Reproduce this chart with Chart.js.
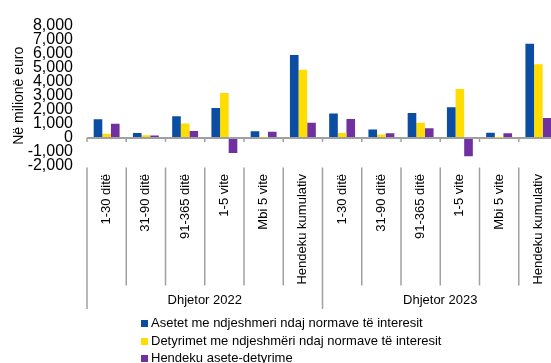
<!DOCTYPE html>
<html>
<head>
<meta charset="utf-8">
<script src="https://cdn.jsdelivr.net/npm/chart.js@4/dist/chart.umd.min.js"></script>
<style>
  html, body { margin: 0; padding: 0; background: #fff; overflow: hidden; }
  #wrap { position: relative; width: 558px; height: 363px; }
  #legend { position: absolute; left: 141px; top: 314px; font: 13px "Liberation Sans", Arial, sans-serif; color: #000; }
  #legend .item { height: 17.5px; line-height: 17.5px; white-space: nowrap; }
  #legend .box { display: inline-block; width: 7px; height: 7px; margin-right: 3px; vertical-align: 0px; }
</style>
</head>
<body>
<div id="wrap">
  <canvas id="c" width="558" height="363"></canvas>
  <div id="legend"></div>
</div>
<script>
// ---- data ----
const categories = ['1-30 ditë', '31-90 ditë', '91-365 ditë', '1-5 vite', 'Mbi 5 vite', 'Hendeku kumulativ',
                    '1-30 ditë', '31-90 ditë', '91-365 ditë', '1-5 vite', 'Mbi 5 vite', 'Hendeku kumulativ'];
const groups = ['Dhjetor 2022', 'Dhjetor 2023'];
const seriesNames = ['Asetet me ndjeshmeri ndaj normave të interesit',
                     'Detyrimet me ndjeshmëri ndaj normave të interesit',
                     'Hendeku asete-detyrime'];
const assets      = [1330, 350, 1540, 2130, 470, 5900,  1730, 590, 1780, 2180, 360, 6700];
const liabilities = [ 300, 190, 1020, 3200,  20, 4850,   350, 240, 1070, 3480,  10, 5250];
const gap         = [1000, 170,  500, -1070, 430, 1070, 1350, 330,  690, -1300, 330, 1420];
const yTicks = [-2000, -1000, 0, 1000, 2000, 3000, 4000, 5000, 6000, 7000, 8000];
const yTitle = 'Në milionë euro';

const colors = ['#0A4DA3', '#FFDD00', '#7030A0'];
const FONT = '"Liberation Sans", Arial, sans-serif';

const decor = {
  id: 'decor',
  afterDraw(chart) {
    const ctx = chart.ctx;
    const xs = chart.scales.x, ys = chart.scales.y;
    const n = categories.length;
    const p = i => xs.getPixelForValue(i);
    const half = (p(1) - p(0)) / 2;
    const bounds = [];
    for (let i = 0; i <= n; i++) bounds.push(i < n ? p(i) - half : p(n - 1) + half);
    const y0 = ys.getPixelForValue(0);
    const bottom = chart.chartArea.bottom;
    ctx.save();
    ctx.strokeStyle = '#a0a0a0';
    ctx.lineWidth = 1.5;
    // small tick marks under the zero line
    bounds.forEach(b => {
      ctx.beginPath(); ctx.moveTo(b, y0); ctx.lineTo(b, y0 + 4); ctx.stroke();
    });
    // category separators & group separators
    bounds.forEach((b, i) => {
      const isGroup = (i % 6 === 0);
      ctx.beginPath();
      ctx.moveTo(b, bottom + 1.5);
      ctx.lineTo(b, isGroup ? bottom + 143 : bottom + 119.5);
      ctx.stroke();
    });
    // group labels
    ctx.fillStyle = '#000';
    ctx.font = '13px ' + FONT;
    ctx.textAlign = 'center';
    ctx.textBaseline = 'middle';
    groups.forEach((g, gi) => {
      const cx = (bounds[gi * 6] + bounds[gi * 6 + 6]) / 2;
      ctx.fillText(g, cx, bottom + 134.5);
    });
    ctx.restore();
  }
};

new Chart(document.getElementById('c'), {
  type: 'bar',
  data: {
    labels: categories,
    datasets: [
      { label: seriesNames[0], data: assets, backgroundColor: colors[0] },
      { label: seriesNames[1], data: liabilities, backgroundColor: colors[1] },
      { label: seriesNames[2], data: gap, backgroundColor: colors[2] }
    ]
  },
  options: {
    responsive: false,
    animation: false,
    layout: { padding: { top: 25.5, bottom: 77, left: 0, right: 0 } },
    datasets: { bar: { categoryPercentage: 0.66, barPercentage: 1.0, borderWidth: 0 } },
    plugins: { legend: { display: false }, tooltip: { enabled: false } },
    scales: {
      x: {
        grid: { display: false, drawTicks: false },
        border: { display: false },
        afterFit: s => { s.height = 120; s.paddingLeft = 0; s.paddingRight = 0; },
        ticks: {
          autoSkip: false, minRotation: 90, maxRotation: 90, padding: 8,
          color: '#000', font: { family: FONT, size: 13 }
        }
      },
      y: {
        min: -2000, max: 8000,
        afterFit: s => { s.width = 87; },
        afterBuildTicks: s => { s.ticks = yTicks.map(v => ({ value: v })); },
        border: { display: false },
        grid: {
          drawTicks: false,
          color: c => (c.tick && c.tick.value === 0) ? '#a0a0a0' : 'rgba(0,0,0,0)',
          lineWidth: c => (c.tick && c.tick.value === 0) ? 2 : 0
        },
        ticks: {
          autoSkip: false, padding: 14, color: '#000',
          font: { family: FONT, size: 16 },
          callback: v => v.toLocaleString('en-US')
        },
        title: {
          display: true, text: yTitle, color: '#000',
          font: { family: FONT, size: 14 },
          padding: { top: 11, bottom: 0 }
        }
      }
    }
  },
  plugins: [decor]
});

// HTML legend built from the series names / colours
const lg = document.getElementById('legend');
seriesNames.forEach((name, i) => {
  const d = document.createElement('div');
  d.className = 'item';
  const b = document.createElement('span');
  b.className = 'box';
  b.style.background = colors[i];
  d.appendChild(b);
  d.appendChild(document.createTextNode(name));
  lg.appendChild(d);
});
</script>
</body>
</html>
